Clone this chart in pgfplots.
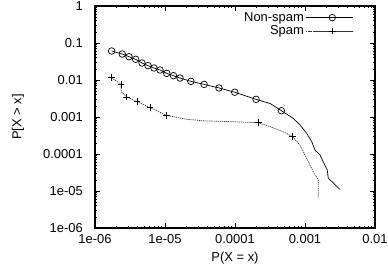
\documentclass[border=0pt]{standalone}
\usepackage{pgfplots}
\pgfplotsset{compat=1.18}
\usepackage{pgfplotstable}
\usepackage{fontspec}
\setmainfont{Liberation Sans}

\pgfplotstableread{
x y
1.73e-6 0.0608
2.45e-6 0.0504
3.06e-6 0.0426
3.81e-6 0.0363
4.69e-6 0.0288
5.71e-6 0.0245
6.96e-6 0.0211
8.49e-6 0.0186
1.06e-5 0.0151
1.32e-5 0.0131
1.64e-5 0.0113
2.34e-5 0.0092
3.62e-5 0.0076
5.9e-5 0.0061
9.9e-5 0.00467
2.0e-4 0.0030
3.2e-4 0.0023
4.6e-4 0.00148
6.8e-4 9.2e-4
8.5e-4 6.1e-4
1.06e-3 3.6e-4
1.25e-3 2.15e-4
1.39e-3 1.28e-4
1.64e-3 9.4e-5
1.82e-3 6.2e-5
2.08e-3 3.7e-5
2.15e-3 2.2e-5
2.53e-3 1.67e-5
3.16e-3 1.1e-5
}\nonspamline

\pgfplotstableread{
x y
1.73e-6 0.0608
2.45e-6 0.0504
3.06e-6 0.0426
3.81e-6 0.0363
4.69e-6 0.0288
5.71e-6 0.0245
6.96e-6 0.0211
8.49e-6 0.0186
1.06e-5 0.0151
1.32e-5 0.0131
1.64e-5 0.0113
2.34e-5 0.0092
3.62e-5 0.0076
5.9e-5 0.0061
9.9e-5 0.00467
2.0e-4 0.0030
4.6e-4 0.00148
}\nonspammarks

\pgfplotstableread{
x y
1.73e-6 0.0115
2.35e-6 0.0076
2.38e-6 0.0048
2.84e-6 0.0035
4.0e-6 0.0026
6.1e-6 0.0018
1.06e-5 0.0011
2.04e-5 8.7e-4
3.5e-5 7.9e-4
1.06e-4 7.4e-4
2.15e-4 7.0e-4
3.16e-4 5.5e-4
4.9e-4 4.0e-4
6.6e-4 2.95e-4
8.5e-4 1.75e-4
1.0e-3 9.4e-5
1.18e-3 5.0e-5
1.39e-3 2.7e-5
1.55e-3 2.0e-5
1.55e-3 6.3e-6
}\spamline

\pgfplotstableread{
x y
1.73e-6 0.0115
2.35e-6 0.0076
2.84e-6 0.0035
4.0e-6 0.0026
6.1e-6 0.0018
1.06e-5 0.0011
2.15e-4 7.0e-4
6.6e-4 2.95e-4
}\spammarks

\begin{document}
\begin{tikzpicture}[font=\fontsize{13}{15}\selectfont]
\useasboundingbox (-95bp,-46bp) rectangle (293bp,228bp);
\begin{axis}[
  scale only axis,
  width=280bp, height=222bp,
  xmode=log, ymode=log,
  xmin=1e-6, xmax=1e-2,
  ymin=1e-6, ymax=1,
  xtick={1e-6,1e-5,1e-4,1e-3,1e-2},
  xticklabels={1e-06,1e-05,0.0001,0.001,0.01},
  ytick={1e-6,1e-5,1e-4,1e-3,1e-2,1e-1,1},
  yticklabels={1e-06,1e-05,0.0001,0.001,0.01,0.1,1},
  axis line style={line width=1.2bp},
  tick style={black, line width=0.6bp},
  major tick length=5bp,
  minor tick length=2.5bp,
  tick align=inside,
  yticklabel style={anchor=east, inner sep=0pt, xshift=-12bp},
  xticklabel style={anchor=north, inner sep=0pt, yshift=-6bp},
  xlabel={P(X = x)},
  ylabel={P[X > x]},
  xlabel style={at={(axis description cs:0.5,0)}, anchor=center, yshift=-30bp},
  ylabel style={at={(axis description cs:-0.275,0.5)}, anchor=center},
  legend style={draw=none, fill=none, at={(0.935,0.99)}, anchor=north east,
    row sep=-1bp, font=\fontsize{13}{15}\selectfont},
  legend cell align=right,
  legend plot pos=right,
  legend image code/.code={
    \path (0bp,0bp) -- (47bp,0bp);
    \draw[#1] (5bp,0bp) -- (47bp,0bp);
    \draw[#1] plot coordinates {(26bp,0bp)};
  },
]
\addplot[black, line width=0.7bp, forget plot] table[x=x,y=y] {\nonspamline};
\addplot[black, line width=0.7bp, only marks, mark=o, mark size=3.3bp, forget plot] table[x=x,y=y] {\nonspammarks};
\addplot[black!80, line width=0.7bp, dash pattern=on 1.2bp off 0.9bp, forget plot] table[x=x,y=y] {\spamline};
\addplot[black, line width=0.7bp, only marks, mark=+, mark size=3.3bp, forget plot] table[x=x,y=y] {\spammarks};
\addlegendimage{black, line width=0.7bp, mark=o, mark size=3.3bp, mark options={solid}}
\addlegendentry{Non-spam}
\addlegendimage{black!80, line width=0.7bp, dash pattern=on 1.2bp off 0.9bp, mark=+, mark size=3.3bp, mark options={solid,black}}
\addlegendentry{Spam}
\end{axis}
\end{tikzpicture}
\end{document}
